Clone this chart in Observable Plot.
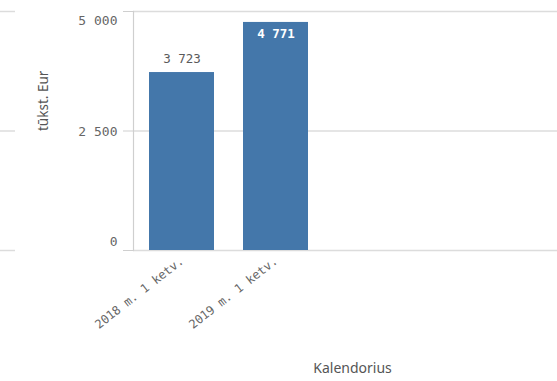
<!DOCTYPE html>
<html>
<head>
<meta charset="utf-8">
<script src="https://cdn.jsdelivr.net/npm/d3@7"></script>
<script src="https://cdn.jsdelivr.net/npm/@observablehq/plot@0.6"></script>
<style>
  html, body { margin: 0; padding: 0; background: #fff; }
  #wrap { position: relative; width: 557px; height: 381px; overflow: hidden; }
  #wrap svg { position: absolute; top: 0; }
</style>
</head>
<body>
<div id="wrap"></div>
<script>
const categories = ["2018 m. 1 ketv.", "2019 m. 1 ketv."];
const values = [3723, 4771];
const yTicks = [0, 2500, 5000];
const yLabel = "tūkst. Eur";
const xLabel = "Kalendorius";

const data = categories.map((c, i) => ({cat: c, value: values[i]}));
const fmtSp = v => d3.format(",d")(v).replace(/,/g, " ");

const mono = "DejaVu Sans Mono";
const sans = "Noto Sans";
const W = 557, H = 381, mL = 133, mT = 11, mB = 131;
const yMax = d3.max(yTicks);
const yMin = d3.min(yTicks);
const inside = d => d.value / yMax > 0.9;
const txt = "#666";

const chart = Plot.plot({
  width: W, height: H,
  marginLeft: mL, marginRight: 0, marginTop: mT, marginBottom: mB,
  style: {background: "transparent"},
  x: {domain: categories, range: [mL, 324], paddingInner: 0.305, paddingOuter: 0.158},
  y: {domain: [yMin, yMax]},
  marks: [
    Plot.ruleY(yTicks, {stroke: "#dcdcdc", strokeWidth: 1.5}),
    Plot.frame({anchor: "left", stroke: "#cfcfcf", strokeWidth: 1.2}),
    Plot.barY(data, {x: "cat", y: "value", fill: "#4477aa"}),
    Plot.text(data.filter(d => !inside(d)), {x: "cat", y: "value", text: d => fmtSp(d.value), dy: -14, fill: "#5a5a5a", fontFamily: mono, fontSize: 12.5}),
    Plot.text(data.filter(inside), {x: "cat", y: "value", text: d => fmtSp(d.value), dy: 12, fill: "#fff", fontFamily: mono, fontSize: 12.5, fontWeight: 600}),
    // y tick marks
    Plot.axisY({ticks: yTicks, tickSize: 10, text: null, stroke: "#cfcfcf", label: null}),
    // y tick labels, kept inside the axis range
    Plot.axisY({ticks: yTicks.filter(t => t === yMax), tickFormat: fmtSp, tickSize: 0, tickPadding: 16,
      lineAnchor: "top", dy: 4, color: txt, fontFamily: mono, fontSize: 13, label: null}),
    Plot.axisY({ticks: yTicks.filter(t => t !== yMax && t !== yMin), tickFormat: fmtSp, tickSize: 0, tickPadding: 16,
      dy: 1, color: txt, fontFamily: mono, fontSize: 13, label: null}),
    Plot.axisY({ticks: yTicks.filter(t => t === yMin), tickFormat: fmtSp, tickSize: 0, tickPadding: 16,
      lineAnchor: "bottom", dy: -5, color: txt, fontFamily: mono, fontSize: 13, label: null}),
    Plot.axisX({tickRotate: -38, tickSize: 0, tickPadding: 9, color: txt, fontFamily: mono, fontSize: 12, label: null}),
    // axis titles
    Plot.text([yLabel], {frameAnchor: "left", rotate: -90, dx: -90, fill: "#555", fontFamily: sans, fontSize: 13.5}),
    Plot.text([xLabel], {frameAnchor: "bottom", dy: 122, dx: 7, fill: "#555", fontFamily: sans, fontSize: 14})
  ]
});
chart.style.left = "0px";
document.getElementById("wrap").appendChild(chart);

// partial gridlines of a neighbouring panel at the far left edge
const side = Plot.plot({
  width: 15, height: H, marginLeft: 0, marginRight: 0, marginTop: mT, marginBottom: mB,
  x: {axis: null}, y: {domain: [yMin, yMax], axis: null},
  style: {background: "transparent"},
  marks: [Plot.ruleY(yTicks, {stroke: "#dcdcdc", strokeWidth: 1.5})]
});
side.style.left = "0px";
document.getElementById("wrap").appendChild(side);
</script>
</body>
</html>
